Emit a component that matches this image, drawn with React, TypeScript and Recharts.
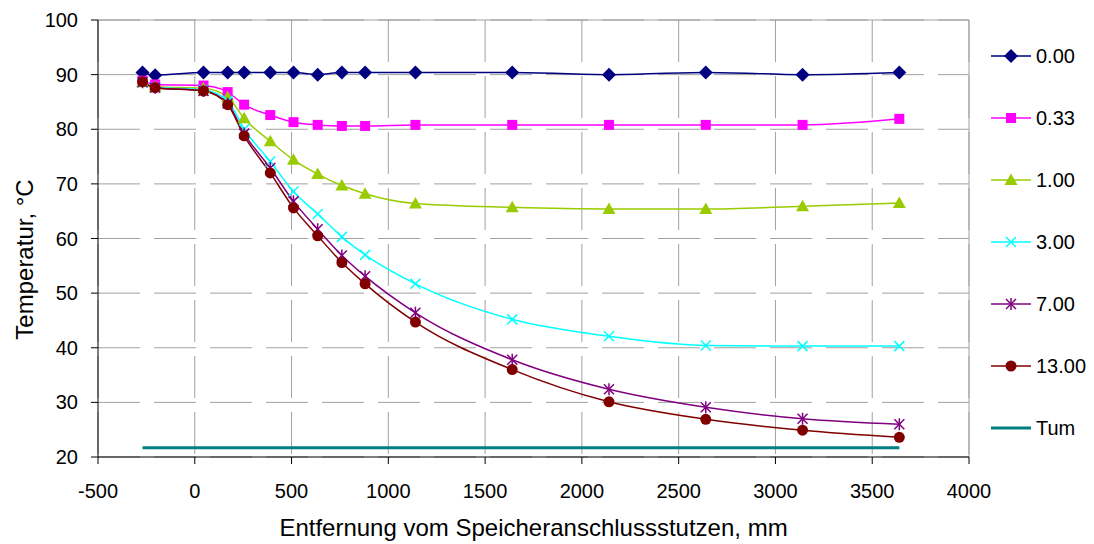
import { LineChart, Line, XAxis, YAxis, CartesianGrid, ReferenceLine, Label } from 'recharts'

// Abstand der Messstellen vom Speicheranschlussstutzen (mm)
const distances = [-270, -205, 45, 170, 255, 390, 510, 635, 760, 880, 1140, 1640, 2140, 2640, 3140, 3640]

// Temperaturen (°C) je Zeitpunkt
const temp000 = [90.4, 89.9, 90.4, 90.4, 90.4, 90.4, 90.4, 90.0, 90.4, 90.4, 90.4, 90.4, 90.0, 90.4, 90.0, 90.4]
const temp033 = [88.9, 88.2, 88.0, 86.8, 84.5, 82.6, 81.3, 80.8, 80.6, 80.6, 80.8, 80.8, 80.8, 80.8, 80.8, 81.9]
const temp100 = [88.6, 87.8, 87.5, 85.9, 82.0, 77.8, 74.4, 71.8, 69.7, 68.2, 66.4, 65.7, 65.4, 65.4, 65.9, 66.5]
const temp300 = [88.6, 87.7, 87.2, 85.2, 80.0, 74.1, 68.6, 64.5, 60.3, 57.0, 51.7, 45.2, 42.1, 40.4, 40.3, 40.3]
const temp700 = [88.6, 87.6, 87.0, 84.7, 79.2, 72.9, 66.8, 61.7, 56.9, 53.1, 46.4, 37.8, 32.4, 29.1, 27.0, 26.0]
const temp1300 = [88.7, 87.6, 87.0, 84.5, 78.8, 72.0, 65.6, 60.5, 55.6, 51.7, 44.7, 36.0, 30.1, 26.9, 24.9, 23.6]
const tempUmgebung = [21.7, 21.7, 21.7, 21.7, 21.7, 21.7, 21.7, 21.7, 21.7, 21.7, 21.7, 21.7, 21.7, 21.7, 21.7, 21.7]

const xTicks = [-500, 0, 500, 1000, 1500, 2000, 2500, 3000, 3500, 4000]
const yTicks = [20, 30, 40, 50, 60, 70, 80, 90, 100]

type Shape = 'diamond' | 'square' | 'triangle' | 'x' | 'star' | 'circle' | 'none'

interface Series {
    key: string;
    name: string;
    color: string;
    shape: Shape;
    width: number;
    values: number[];
}

const series: Series[] = [
    { key: 't000', name: '0.00', color: '#000080', shape: 'diamond', width: 1.5, values: temp000 },
    { key: 't033', name: '0.33', color: '#FF00FF', shape: 'square', width: 1.5, values: temp033 },
    { key: 't100', name: '1.00', color: '#99CC00', shape: 'triangle', width: 1.5, values: temp100 },
    { key: 't300', name: '3.00', color: '#00FFFF', shape: 'x', width: 1.5, values: temp300 },
    { key: 't700', name: '7.00', color: '#800080', shape: 'star', width: 1.5, values: temp700 },
    { key: 't1300', name: '13.00', color: '#800000', shape: 'circle', width: 1.5, values: temp1300 },
    { key: 'tum', name: 'Tum', color: '#008080', shape: 'none', width: 3, values: tempUmgebung },
]

const data = distances.map((x, i) => {
    const row: Record<string, number> = { x }
    series.forEach(s => { row[s.key] = s.values[i] })
    return row
})

const FONT = '"Liberation Sans", Arial, sans-serif'

function Marker({ shape, cx, cy, color }: { shape: Shape; cx: number; cy: number; color: string }) {
    switch (shape) {
        case 'diamond':
            return <polygon points={`${cx},${cy - 7} ${cx + 7},${cy} ${cx},${cy + 7} ${cx - 7},${cy}`} fill={color} />
        case 'square':
            return <rect x={cx - 5} y={cy - 5} width={10} height={10} fill={color} />
        case 'triangle':
            return <polygon points={`${cx},${cy - 6.5} ${cx + 6.5},${cy + 5} ${cx - 6.5},${cy + 5}`} fill={color} />
        case 'x':
            return (
                <g stroke={color} strokeWidth={1.5}>
                    <line x1={cx - 5} y1={cy - 5} x2={cx + 5} y2={cy + 5} />
                    <line x1={cx - 5} y1={cy + 5} x2={cx + 5} y2={cy - 5} />
                </g>
            )
        case 'star':
            return (
                <g stroke={color} strokeWidth={1.5}>
                    <line x1={cx - 5} y1={cy - 5} x2={cx + 5} y2={cy + 5} />
                    <line x1={cx - 5} y1={cy + 5} x2={cx + 5} y2={cy - 5} />
                    <line x1={cx} y1={cy - 6} x2={cx} y2={cy + 6} />
                </g>
            )
        case 'circle':
            return <circle cx={cx} cy={cy} r={5.5} fill={color} />
        default:
            return null
    }
}

function YLabel({ viewBox }: any) {
    const x = viewBox.x + 24
    const y = viewBox.y + viewBox.height / 2 + 21
    return (
        <text x={x} y={y} transform={`rotate(-90, ${x}, ${y})`} textAnchor="middle" dominantBaseline="central"
            fontSize={24} fill="#000" fontFamily={FONT}>
            Temperatur, °C
        </text>
    )
}

function XLabel({ viewBox }: any) {
    return (
        <text x={viewBox.x + viewBox.width / 2} y={536} textAnchor="middle" fontSize={24} fill="#000" fontFamily={FONT}>
            Entfernung vom Speicheranschlussstutzen, mm
        </text>
    )
}

// Legende rechts neben dem Diagramm
function SeriesLegend() {
    return (
        <svg width={109} height={434} style={{ position: 'absolute', left: 985, top: 25 }}>
            {series.map((s, i) => {
                const cy = 31 + i * 62
                return (
                    <g key={s.key}>
                        <line x1={6} x2={46} y1={cy} y2={cy} stroke={s.color} strokeWidth={s.width === 3 ? 3 : 1.5} />
                        <Marker shape={s.shape} cx={26} cy={cy} color={s.color} />
                        <text x={51} y={cy} dominantBaseline="central" fontSize={20} fill="#000" fontFamily={FONT}>{s.name}</text>
                    </g>
                )
            })}
        </svg>
    )
}

export default function App() {
    return (
        <div style={{ position: 'absolute', left: 0, top: 0, width: 1094, height: 544, background: '#fff', fontFamily: FONT }}>
            <LineChart width={1094} height={544} data={data} margin={{ top: 20, right: 125, bottom: 0, left: 0 }}>
                <CartesianGrid stroke="#A0A0A0" strokeDasharray="42 14" />
                <ReferenceLine y={100} stroke="#A0A0A0" />
                <ReferenceLine x={4000} stroke="#A0A0A0" />
                <XAxis
                    dataKey="x"
                    type="number"
                    domain={[-500, 4000]}
                    ticks={xTicks}
                    height={87}
                    tickSize={7}
                    tickMargin={20}
                    axisLine={{ stroke: '#000' }}
                    tickLine={{ stroke: '#000' }}
                    tick={{ fill: '#000', fontSize: 20 }}
                    interval={0}
                >
                    <Label content={XLabel} />
                </XAxis>
                <YAxis
                    type="number"
                    domain={[20, 100]}
                    ticks={yTicks}
                    width={98}
                    tickSize={7}
                    tickMargin={13}
                    axisLine={{ stroke: '#000' }}
                    tickLine={{ stroke: '#000' }}
                    tick={{ fill: '#000', fontSize: 20 }}
                    interval={0}
                >
                    <Label content={YLabel} />
                </YAxis>
                {series.map(s => (
                    <Line
                        key={s.key}
                        dataKey={s.key}
                        name={s.name}
                        type="monotone"
                        stroke={s.color}
                        strokeWidth={s.width}
                        isAnimationActive={false}
                        activeDot={false}
                        dot={s.shape === 'none' ? false : (props: any) => (
                            <Marker key={`${s.key}-${props.index}`} shape={s.shape} cx={props.cx} cy={props.cy} color={s.color} />
                        )}
                    />
                ))}
            </LineChart>
            <SeriesLegend />
        </div>
    )
}
